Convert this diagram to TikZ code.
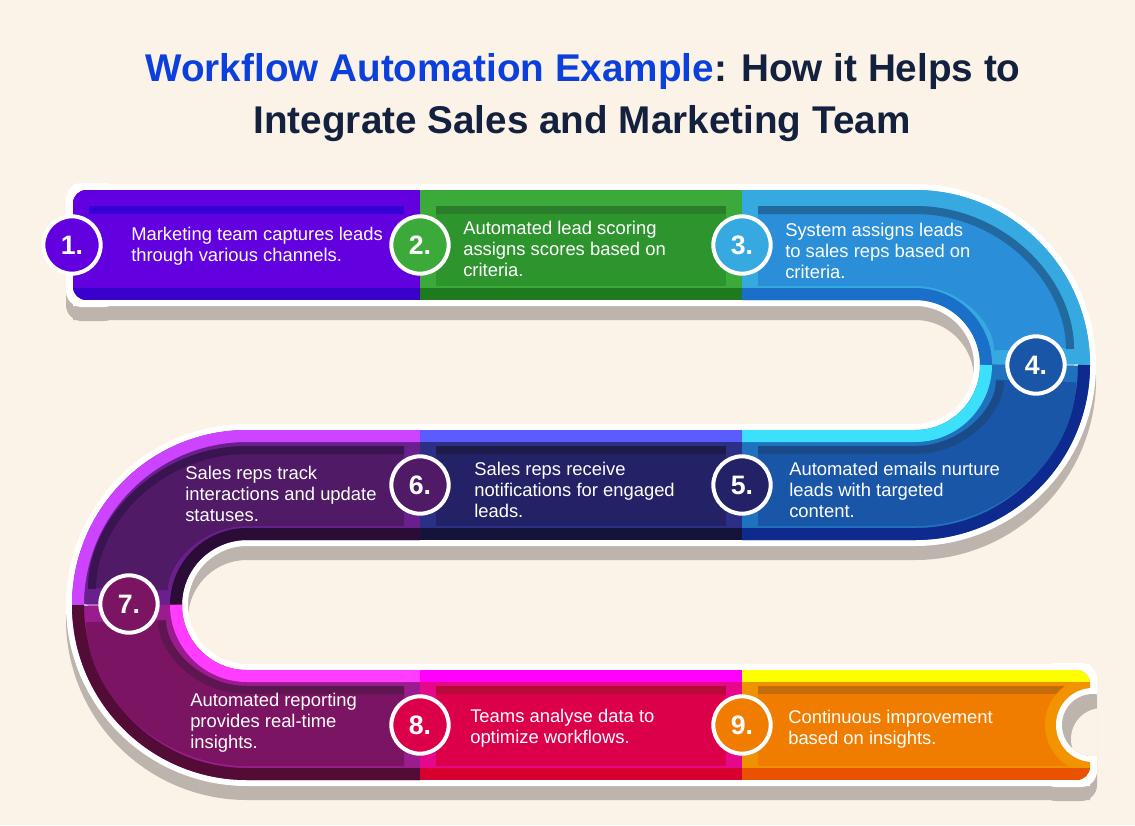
\documentclass[tikz,border=0pt]{standalone}
\usepackage{fontspec}
\setmainfont{Liberation Sans}
\usetikzlibrary{positioning,calc}
\definecolor{bg}{HTML}{FBF3E7}
\definecolor{shadowgray}{HTML}{BCB4AD}
\definecolor{ttlblue}{HTML}{0B40DC}
\definecolor{ttlnavy}{HTML}{13213E}
\definecolor{ringorange}{HTML}{F29400}
\definecolor{fone}{HTML}{6200E0}
\definecolor{ftwo}{HTML}{3BAA3B}
\definecolor{fthree}{HTML}{36A9E0}
\definecolor{ffour}{HTML}{1A56A8}
\definecolor{ffive}{HTML}{232266}
\definecolor{fsix}{HTML}{501A66}
\definecolor{fseven}{HTML}{7B1462}
\definecolor{feight}{HTML}{DC004A}
\definecolor{fnine}{HTML}{F07D00}
\tikzset{
  num/.style={circle, draw=white, line width=3pt, minimum size=43pt, inner sep=0pt,
              text=white, font=\fontsize{20}{20}\selectfont\bfseries},
  lbl/.style={anchor=west, align=left, inner sep=0pt, text=white,
              font=\fontsize{13.8}{15.8}\selectfont},
  ttl/.style={anchor=base, inner sep=0pt, text=ttlnavy,
              font=\fontsize{29}{34}\selectfont\bfseries}
}
% centre lines of the track pieces, #1 = offset from the lit edge (px)
\newcommand\pone[1]{(73,190+#1) -- (420,190+#1)}
\newcommand\ptwo[1]{(420,190+#1) -- (742,190+#1)}
\newcommand\pthree[1]{(742,190+#1) -- (915,190+#1) arc[start angle=-90,end angle=0,radius={175-#1}]}
\newcommand\pfour[1]{(980+#1,365) arc[start angle=0,end angle=90,radius={65+#1}] -- (742,430+#1)}
\newcommand\psix[1]{(742,430+#1) -- (420,430+#1)}
\newcommand\pseva[1]{(420,430+#1) -- (247,430+#1) arc[start angle=-90,end angle=-180,radius={175-#1}]}
\newcommand\psevb[1]{(182-#1,605) arc[start angle=180,end angle=90,radius={65+#1}] -- (420,670+#1)}
\newcommand\peight[1]{(420,670+#1) -- (742,670+#1)}
\newcommand\pnine[1]{(742,670+#1) -- (1090,670+#1)}
% #1 path, #2 lit edge, #3 frame, #4 panel, #5 panel line, #6 dark edge (hex)
\newcommand\seg[6]{%
  \definecolor{sglit}{HTML}{#2}\definecolor{sgframe}{HTML}{#3}%
  \definecolor{sgpanel}{HTML}{#4}\definecolor{sgline}{HTML}{#5}%
  \definecolor{sgdark}{HTML}{#6}%
  \draw[line width=82.5pt, sgframe] #1{55};
  \draw[line width=9pt, sglit] #1{6};
  \draw[line width=9pt, sgdark] #1{104};
  \draw[line width=60pt, sgpanel, shorten <=12pt, shorten >=12pt] #1{56};
  \draw[line width=6pt, sgline, shorten <=12pt, shorten >=12pt] #1{20};
}
\begin{document}
\begin{tikzpicture}[x=0.75pt, y=-0.75pt]
\fill[bg] (0,0) rectangle (1135,825);
\useasboundingbox (0,0) rectangle (1135,825);

% title
\node[ttl] (ttla) at (583,81) {{\color{ttlblue}Workflow Automation Example}: How it Helps to};
\node[ttl] (ttlb) at (582,133) {Integrate Sales and Marketing Team};

% shadow and white rim
\begin{scope}[shift={(0,14)}]
  \draw[shadowgray, line width=91.5pt] (73,245) -- (915,245) arc[start angle=-90,end angle=90,radius=120]
    -- (247,485) arc[start angle=-90,end angle=-270,radius=120] -- (1090,725);
  \fill[shadowgray, rounded corners=12pt] (66,183) rectangle (120,307);
  \fill[shadowgray, rounded corners=12pt] (1040,663) rectangle (1097,787);
\end{scope}
\draw[white, line width=91.5pt] (73,245) -- (915,245) arc[start angle=-90,end angle=90,radius=120]
  -- (247,485) arc[start angle=-90,end angle=-270,radius=120] -- (1090,725);
\fill[white, rounded corners=12pt] (66,183) rectangle (120,307);
\fill[white, rounded corners=12pt] (1040,663) rectangle (1097,787);

% track
\begin{scope}
  \clip[rounded corners=10pt] (73,190) rectangle (500,300);
  \seg{\pone}{6200E0}{6200E0}{6200E0}{3400D4}{3A00CC}
\end{scope}
\seg{\ptwo}{3BAA3B}{3BAA3B}{2E952E}{2A7D2A}{1E7A1E}
\seg{\pthree}{36A9E0}{36A9E0}{2A8ED8}{22699F}{1A6FC8}
\seg{\pfour}{3DE0FA}{1F72BE}{1A56A8}{1B4A88}{0F2A8E}
\seg{\psix}{5A5CFF}{2B2F86}{232266}{1D1C48}{14133C}
\seg{\pseva}{CC44FF}{6A208C}{501A66}{3A1450}{2A0C36}
\seg{\psevb}{FF3CFF}{9A1C8E}{7B1462}{5E1650}{520C36}
\seg{\peight}{FF00FF}{E6088A}{DC004A}{B80A3A}{D8002E}
\begin{scope}
  \clip[rounded corners=10pt] (650,670) rectangle (1090,780);
  \seg{\pnine}{FFFF00}{F09200}{F07D00}{C46C0A}{E85200}
\end{scope}

% notch at the end
\begin{scope}
  \clip (1000,683) rectangle (1090,767);
  \fill[ringorange] (1093,725) circle[radius=48];
\end{scope}
\begin{scope}
  \clip (1000,600) rectangle (1097,800);
  \fill[white] (1093,725) circle[radius=37];
  \clip (1093,725) circle[radius=31];
  \fill[shadowgray] (1050,680) rectangle (1097,800);
  \fill[bg] (1102,739) circle[radius=31];
\end{scope}

% steps
\node[num, fill=fone] (n1) at (72,245) {1.};
\node[num, fill=ftwo] (n2) at (420,245) {2.};
\node[num, fill=fthree] (n3) at (742,245) {3.};
\node[num, fill=ffour] (n4) at (1036,365) {4.};
\node[num, fill=ffive] (n5) at (742,485) {5.};
\node[num, fill=fsix] (n6) at (420,485) {6.};
\node[num, fill=fseven] (n7) at (129,604) {7.};
\node[num, fill=feight] (n8) at (420,725) {8.};
\node[num, fill=fnine] (n9) at (742,725) {9.};

\node[lbl] (t1) at (131,246) {Marketing team captures leads\\through various channels.};
\node[lbl] (t2) at (463,249) {Automated lead scoring\\assigns scores based on\\criteria.};
\node[lbl] (t3) at (785,251) {System assigns leads\\to sales reps based on\\criteria.};
\node[lbl] (t5) at (789,490) {Automated emails nurture\\leads with targeted\\content.};
\node[lbl] (t6) at (474,490) {Sales reps receive\\notifications for engaged\\leads.};
\node[lbl] (t7) at (185,494) {Sales reps track\\interactions and update\\statuses.};
\node[lbl] (t7b) at (190,723) {Automated reporting\\provides real-time\\insights.};
\node[lbl] (t8) at (470,728) {Teams analyse data to\\optimize workflows.};
\node[lbl] (t9) at (788,729) {Continuous improvement\\based on insights.};
\end{tikzpicture}
\end{document}
